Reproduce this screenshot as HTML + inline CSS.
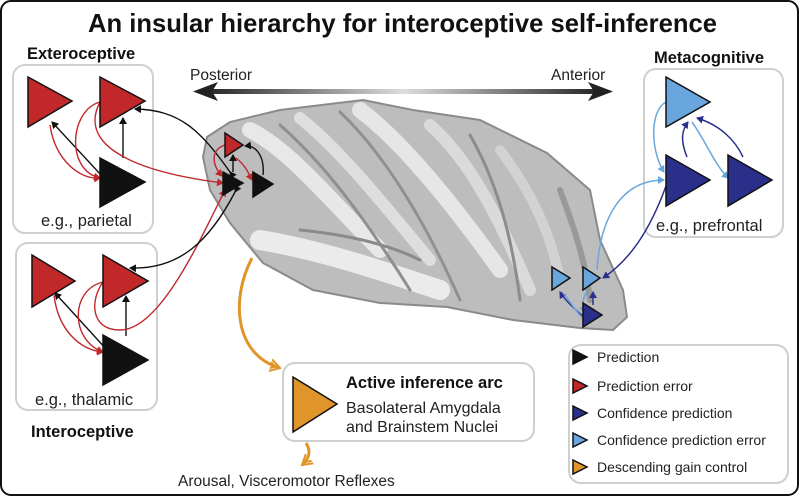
<!DOCTYPE html>
<html><head><meta charset="utf-8"><style>
html,body{margin:0;padding:0;background:#fff}
svg{display:block;font-family:"Liberation Sans",Arial,sans-serif}
</style></head><body>
<svg width="800" height="497" viewBox="0 0 800 497" xmlns="http://www.w3.org/2000/svg">
<defs>
<linearGradient id="ax" x1="0" x2="1">
<stop offset="0" stop-color="#222"/><stop offset="0.5" stop-color="#ddd"/><stop offset="1" stop-color="#222"/>
</linearGradient>
<marker id="mk" markerWidth="8" markerHeight="8" refX="6" refY="4" orient="auto" markerUnits="userSpaceOnUse"><path d="M0,0L7,4L0,8z" fill="#111"/></marker>
<marker id="mr" markerWidth="8" markerHeight="8" refX="6" refY="4" orient="auto" markerUnits="userSpaceOnUse"><path d="M0,0L7,4L0,8z" fill="#c0282a"/></marker>
<marker id="md" markerWidth="8" markerHeight="8" refX="6" refY="4" orient="auto" markerUnits="userSpaceOnUse"><path d="M0,0L7,4L0,8z" fill="#2a2f8a"/></marker>
<marker id="ml" markerWidth="8" markerHeight="8" refX="6" refY="4" orient="auto" markerUnits="userSpaceOnUse"><path d="M0,0L7,4L0,8z" fill="#6aa6de"/></marker>
<marker id="mo" markerWidth="14" markerHeight="14" refX="10" refY="7" orient="auto" markerUnits="userSpaceOnUse"><path d="M0,1L10,7L0,13M-5,1L5,7L-5,13" fill="none" stroke="#e0952a" stroke-width="2"/></marker>
</defs>
<rect x="1" y="1" width="797" height="494" rx="10" fill="#fff" stroke="#111" stroke-width="2"/>
<text x="88" y="32" font-size="26" font-weight="bold" textLength="629" lengthAdjust="spacingAndGlyphs" fill="#111">An insular hierarchy for interoceptive self-inference</text>

<rect x="205" y="89" width="396" height="5" fill="url(#ax)"/>
<path d="M193,91.5L218,82L212,91.5L218,101z" fill="#222"/>
<path d="M613,91.5L588,82L594,91.5L588,101z" fill="#222"/>
<text x="190" y="80" font-size="15.5" fill="#222">Posterior</text>
<text x="551" y="80" font-size="15.5" fill="#222">Anterior</text>

<path d="M207,137L230,122L280,110L363,100L413,110L480,120L547,153L590,190L600,240L623,290L627,317L613,330L580,328L513,320L447,307L380,303L313,290L263,263L230,223L210,190L203,157Z" fill="#bdbdbd" stroke="#8a8a8a" stroke-width="2"/>
<g fill="none" stroke-linecap="round">
<path d="M250,130C290,150 330,200 380,250" stroke="#e8e8e8" stroke-width="16"/>
<path d="M300,118C340,150 380,200 430,260" stroke="#dedede" stroke-width="12"/>
<path d="M360,110C400,140 450,200 500,270" stroke="#e6e6e6" stroke-width="16"/>
<path d="M430,125C470,160 500,220 530,290" stroke="#dadada" stroke-width="12"/>
<path d="M500,150C530,190 550,230 560,280" stroke="#d2d2d2" stroke-width="10"/>
<path d="M260,240C320,250 380,270 440,290" stroke="#ebebeb" stroke-width="20"/>
<path d="M280,125C320,160 360,210 410,290" stroke="#8f8f8f" stroke-width="3"/>
<path d="M340,112C380,150 420,210 460,300" stroke="#909090" stroke-width="3"/>
<path d="M470,135C490,170 510,220 520,300" stroke="#8c8c8c" stroke-width="3"/>
<path d="M300,230C350,235 390,245 420,260" stroke="#8a8a8a" stroke-width="3"/>
<path d="M560,190C575,230 585,260 590,300" stroke="#999" stroke-width="6"/>
</g>

<g fill="none" stroke="#cfcfcf" stroke-width="2">
<rect x="13" y="65" width="140" height="168" rx="12"/>
<rect x="16" y="243" width="141" height="167" rx="12"/>
<rect x="644" y="69" width="139" height="168" rx="12"/>
<rect x="283" y="363" width="251" height="78" rx="12"/>
<rect x="569" y="345" width="219" height="138" rx="12"/>
</g>
<g font-size="16.5" font-weight="bold" fill="#111">
<text x="27" y="59">Exteroceptive</text>
<text x="31" y="437">Interoceptive</text>
<text x="654" y="63">Metacognitive</text>
</g>
<g font-size="16.5" fill="#222">
<text x="41" y="226">e.g., parietal</text>
<text x="35" y="405">e.g., thalamic</text>
<text x="656" y="231">e.g., prefrontal</text>
</g>

<g fill="none" stroke-width="1.4">
<path d="M145,182L101,175L52,122" stroke="#111" marker-end="url(#mk)"/>
<path d="M123,158L123,118" stroke="#111" marker-end="url(#mk)"/>
<path d="M50,125C55,160 80,180 100,178" stroke="#c0282a" marker-end="url(#mr)"/>
<path d="M100,102C70,110 65,170 100,178" stroke="#c0282a" marker-end="url(#mr)"/>
<path d="M100,102C80,140 120,170 223,183" stroke="#c0282a" marker-end="url(#mr)"/>
<path d="M230,172C200,130 180,110 135,109" stroke="#111" marker-start="url(#mk)" marker-end="url(#mk)"/>
<path d="M146,360L107,350L55,293" stroke="#111" marker-end="url(#mk)"/>
<path d="M126,336L126,296" stroke="#111" marker-end="url(#mk)"/>
<path d="M54,295C58,330 80,350 103,352" stroke="#c0282a" marker-end="url(#mr)"/>
<path d="M103,282C70,290 70,340 103,352" stroke="#c0282a" marker-end="url(#mr)"/>
<path d="M103,282C90,300 90,330 120,330C160,330 200,240 225,190" stroke="#c0282a" marker-end="url(#mr)"/>
<path d="M235,192C210,240 180,270 130,268" stroke="#111" marker-start="url(#mk)" marker-end="url(#mk)"/>
<path d="M225,145C210,150 212,165 222,176" stroke="#c0282a" marker-end="url(#mr)"/>
<path d="M233,172L233,155" stroke="#111" marker-end="url(#mk)"/>
<path d="M236,158C245,165 248,172 252,180" stroke="#c0282a" marker-end="url(#mr)"/>
<path d="M263,175C265,155 255,145 245,146" stroke="#111" marker-end="url(#mk)"/>
</g>
<g fill="none" stroke-width="1.5">
<path d="M666,102C650,110 650,150 664,172" stroke="#6aa6de" marker-end="url(#ml)"/>
<path d="M687,157C680,140 682,130 688,122" stroke="#2a2f8a" marker-end="url(#md)"/>
<path d="M692,122C705,140 715,165 728,178" stroke="#6aa6de" marker-end="url(#ml)"/>
<path d="M743,157C735,140 720,125 697,118" stroke="#2a2f8a" marker-end="url(#md)"/>
<path d="M597,270C600,220 620,180 664,180" stroke="#6aa6de" marker-end="url(#ml)"/>
<path d="M666,186C650,230 630,260 603,278" stroke="#2a2f8a" marker-end="url(#md)"/>
<path d="M590,322C575,310 565,300 560,292" stroke="#2a2f8a" marker-end="url(#md)"/>
<path d="M585,320C575,312 570,300 563,293" stroke="#6aa6de"/>
<path d="M593,305L593,292" stroke="#2a2f8a" marker-end="url(#md)"/>
<path d="M588,290C582,298 582,305 585,312" stroke="#6aa6de" marker-end="url(#ml)"/>
</g>
<g fill="none" stroke="#e0952a" stroke-width="3">
<path d="M252,258C230,300 235,355 280,368" marker-end="url(#mo)"/>
<path d="M306,443C312,452 308,460 302,465" marker-end="url(#mo)"/>
</g>

<g stroke="#111" stroke-width="1.5" stroke-linejoin="miter">
<path d="M28,77L72,101L28,127z" fill="#c0282a"/>
<path d="M100,77L145,101L100,127z" fill="#c0282a"/>
<path d="M100,158L145,182L100,207z" fill="#111"/>
<path d="M32,255L75,281L32,307z" fill="#c0282a"/>
<path d="M103,255L148,281L103,307z" fill="#c0282a"/>
<path d="M103,335L148,360L103,385z" fill="#111"/>
<path d="M225,133L243,145L225,157z" fill="#c0282a"/>
<path d="M223,172L243,183L223,195z" fill="#111"/>
<path d="M253,172L273,184L253,197z" fill="#111"/>
<path d="M552,267L570,278L552,290z" fill="#6aa6de"/>
<path d="M583,267L600,278L583,290z" fill="#6aa6de"/>
<path d="M583,303L602,315L583,327z" fill="#2a2f8a"/>
<path d="M666,77L710,102L666,127z" fill="#6aa6de"/>
<path d="M666,155L710,180L666,206z" fill="#2a2f8a"/>
<path d="M728,155L772,180L728,206z" fill="#2a2f8a"/>
<path d="M293,377L337,404L293,432z" fill="#e0952a"/>
<path d="M573,350L587,357L573,364z" fill="#111"/>
<path d="M573,379L587,386L573,393z" fill="#c0282a"/>
<path d="M573,406L587,413L573,420z" fill="#2a2f8a"/>
<path d="M573,433L587,440L573,447z" fill="#6aa6de"/>
<path d="M573,460L587,467L573,474z" fill="#e0952a"/>
</g>

<text x="346" y="388" font-size="16.5" font-weight="bold" fill="#111">Active inference arc</text>
<text x="346" y="413" font-size="16" fill="#222">Basolateral Amygdala</text>
<text x="346" y="432" font-size="16" fill="#222">and Brainstem Nuclei</text>
<g font-size="14" fill="#222">
<text x="597" y="362">Prediction</text>
<text x="597" y="391">Prediction error</text>
<text x="597" y="418">Confidence prediction</text>
<text x="597" y="445">Confidence prediction error</text>
<text x="597" y="472">Descending gain control</text>
</g>
<text x="178" y="486" font-size="15.5" fill="#222">Arousal, Visceromotor Reflexes</text>
</svg>
</body></html>
